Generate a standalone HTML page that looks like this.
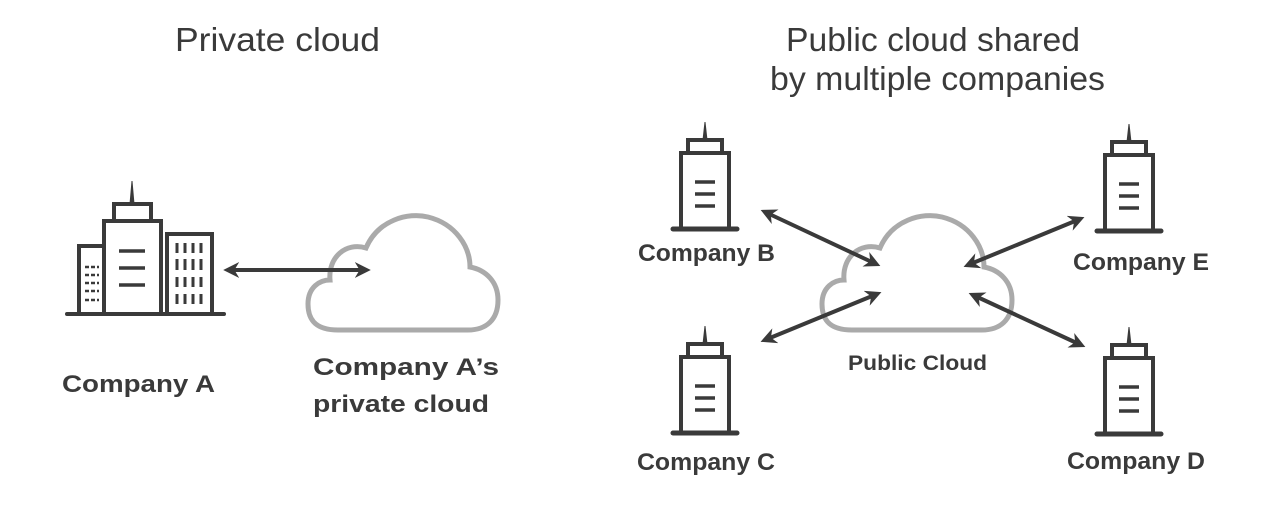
<!DOCTYPE html>
<html><head><meta charset="utf-8"><style>
html,body{margin:0;padding:0;background:#fff;}
svg{display:block;}
text{font-family:"Liberation Sans",sans-serif;fill:#3a3a3a;}
.t{font-size:33px;}
.l{font-size:24px;font-weight:bold;}
</style></head><body>
<svg width="1280" height="524" viewBox="0 0 1280 524">
<defs>
<marker id="a" viewBox="0 0 10 10" refX="7" refY="5" markerWidth="4" markerHeight="4" orient="auto-start-reverse">
<path d="M0,0 L10,5 L0,10 L3,5 Z" fill="#3a3a3a"/></marker>
<g id="b" fill="none" stroke="#3a3a3a" stroke-width="4">
<path d="M-24,33 V-42 H24 V33"/>
<path d="M-17,-42 V-55 H17 V-42"/>
<path d="M-2,-55 L0,-73 L2,-55 Z" fill="#3a3a3a" stroke-width="1"/>
<path d="M-32,34 H32" stroke-width="5" stroke-linecap="round"/>
<path d="M-10,-13 H10 M-10,-1 H10 M-10,11 H10" stroke-width="3.5"/>
</g>
<path id="c" d="M30,118 C5,118 0,105 0,92 C0,75 12,68 22,68 C20,45 38,30 58,36 C70,8 100,0 120,5 C148,12 162,35 162,55 C178,58 190,70 190,88 C190,108 178,118 160,118 Z" fill="#fff" stroke="#aaaaaa" stroke-width="5"/>
</defs>
<text class="t" x="175" y="51" textLength="205" lengthAdjust="spacingAndGlyphs">Private cloud</text>
<text class="t" x="786" y="51" textLength="294" lengthAdjust="spacingAndGlyphs">Public cloud shared</text>
<text class="t" x="770" y="90" textLength="335" lengthAdjust="spacingAndGlyphs">by multiple companies</text>

<g fill="none" stroke="#3a3a3a" stroke-width="4">
<path d="M79,313 V246 H103"/>
<path d="M104,313 V221 H161 V313"/>
<path d="M114,221 V204 H151 V221"/>
<path d="M130,204 L132,181 L134,204 Z" fill="#3a3a3a" stroke-width="1"/>
<path d="M167,313 V234 H212 V313"/>
<path d="M67,314 H224" stroke-width="4" stroke-linecap="round"/>
<path d="M119,251 H145 M119,268 H145 M119,285 H145" stroke-width="3.5"/>
<path d="M85,267 H99 M85,275 H99 M85,283 H99 M85,291 H99 M85,300 H99" stroke-width="2.5" stroke-dasharray="4,2"/>
<path d="M177,243 V253 M185,243 V253 M193,243 V253 M201,243 V253 M177,259 V270 M185,259 V270 M193,259 V270 M201,259 V270 M177,277 V287 M185,277 V287 M193,277 V287 M201,277 V287 M177,294 V304 M185,294 V304 M193,294 V304 M201,294 V304" stroke-width="3"/>
</g>
<use href="#c" x="308" y="212"/>
<line x1="228" y1="270" x2="366" y2="270" stroke="#3a3a3a" stroke-width="4" marker-start="url(#a)" marker-end="url(#a)"/>

<use href="#c" x="822" y="212"/>
<use href="#b" x="705" y="195"/>
<use href="#b" x="1129" y="197"/>
<use href="#b" x="705" y="399"/>
<use href="#b" x="1129" y="400"/>
<g stroke="#3a3a3a" stroke-width="4" marker-start="url(#a)" marker-end="url(#a)">
<line x1="765" y1="212" x2="876" y2="264"/>
<line x1="1080" y1="219" x2="968" y2="265"/>
<line x1="765" y1="340" x2="877" y2="294"/>
<line x1="1081" y1="345" x2="973" y2="295"/>
</g>

<text class="l" x="62" y="392" textLength="153" lengthAdjust="spacingAndGlyphs">Company A</text>
<text class="l" x="313" y="375" textLength="186" lengthAdjust="spacingAndGlyphs">Company A’s</text>
<text class="l" x="313" y="412" textLength="176" lengthAdjust="spacingAndGlyphs">private cloud</text>
<text class="l" x="638" y="261" textLength="137" lengthAdjust="spacingAndGlyphs">Company B</text>
<text class="l" x="1073" y="270" textLength="136" lengthAdjust="spacingAndGlyphs">Company E</text>
<text class="l" x="637" y="470" textLength="138" lengthAdjust="spacingAndGlyphs">Company C</text>
<text class="l" x="1067" y="469" textLength="138" lengthAdjust="spacingAndGlyphs">Company D</text>
<text x="848" y="370" textLength="139" lengthAdjust="spacingAndGlyphs" style="font-size:21px;font-weight:bold">Public Cloud</text>
</svg>
</body></html>
